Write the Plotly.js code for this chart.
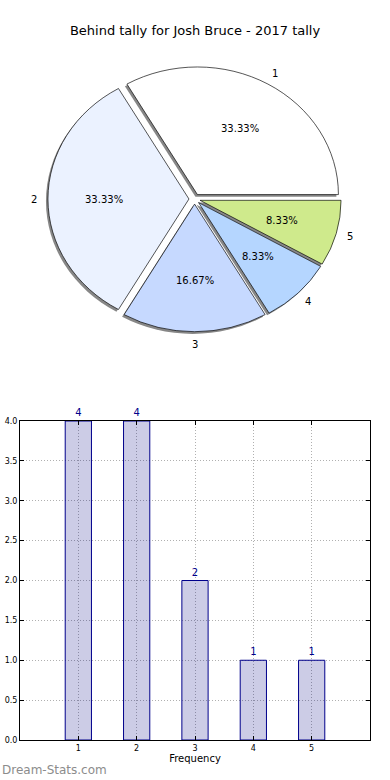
<!DOCTYPE html>
<html>
<head>
<meta charset="utf-8">
<script src="https://cdn.plot.ly/plotly-3.0.1.min.js"></script>
<style>html,body{margin:0;padding:0;background:#fff}#chart{width:390px;height:780px}</style>
</head>
<body>
<div id="chart"></div>
<script>
// ---- data ----
const categories = ['1', '2', '3', '4', '5'];
const counts = [4, 4, 2, 1, 1];
const sliceColors = ['#ffffff', '#ebf2ff', '#c6d9ff', '#b5d6ff', '#cfea8c'];
const yTicks = [0, 0.5, 1, 1.5, 2, 2.5, 3, 3.5, 4];
const chartTitle = 'Behind tally for Josh Bruce - 2017 tally';
const xTitle = 'Frequency';
const watermark = 'Dream-Stats.com';

const W = 390, H = 780;
const FONT = 'DejaVu Sans, sans-serif';
const pull = 0.04;
const rot = -30;           // first slice starts at 3 o'clock, counterclockwise
const pctDist = 0.6, labelDist = 1.1;
// pie box in pixels (drawn as a circle, then squashed vertically like the original's ellipse)
const cx = 194.6, cy = 199, R = 141, sy = 0.905;
const RY = R * sy;
const D = R * (2 + 2 * pull);
function dom(cxp, cyp, d) {
  return {x: [(cxp - d / 2) / W, (cxp + d / 2) / W], y: [1 - (cyp + d / 2) / H, 1 - (cyp - d / 2) / H]};
}
const pulls = categories.map(() => pull);

const shadow = {
  type: 'pie', values: counts, labels: categories, sort: false,
  direction: 'counterclockwise', rotation: rot, pull: pulls,
  domain: dom(cx - 2, cy + 2.4, D),
  marker: {colors: categories.map(() => '#878787'), line: {width: 0}},
  textinfo: 'none', hoverinfo: 'skip', showlegend: false
};
const main = {
  type: 'pie', values: counts, labels: categories, sort: false,
  direction: 'counterclockwise', rotation: rot, pull: pulls,
  domain: dom(cx, cy, D),
  marker: {colors: sliceColors, line: {color: '#000', width: 0.7}},
  textinfo: 'none', hoverinfo: 'skip', showlegend: false
};
const bars = {
  type: 'bar', x: categories.map(Number), y: counts, width: 0.45,
  marker: {color: 'rgba(0,0,128,0.2)', line: {color: '#00008b', width: 1}},
  text: counts.map(String), textposition: 'outside', cliponaxis: false,
  textfont: {family: FONT, size: 10, color: '#00008b'},
  hoverinfo: 'skip', showlegend: false, xaxis: 'x', yaxis: 'y'
};

// slice text (percent inside, label outside) placed on a hidden overlay axis in pie-radius units
const total = counts.reduce((a, b) => a + b, 0);
const pieAnnotations = [];
let cum = 0;
counts.forEach((v, i) => {
  const mid = (cum + v / 2) / total * 2 * Math.PI;
  cum += v;
  const c = Math.cos(mid), s = Math.sin(mid);
  pieAnnotations.push({
    xref: 'x2', yref: 'y2', x: (pctDist + pull) * c, y: (pctDist + pull) * s,
    text: (100 * v / total).toFixed(2) + '%', showarrow: false, xanchor: 'center', yanchor: 'middle',
    font: {family: FONT, size: 10, color: '#000'}
  });
  pieAnnotations.push({
    xref: 'x2', yref: 'y2', x: (labelDist + pull) * c, y: (labelDist + pull) * s,
    text: categories[i], showarrow: false, xanchor: 'center', yanchor: 'middle',
    font: {family: FONT, size: 10, color: '#000'}
  });
});

const layout = {
  width: W, height: H, margin: {l: 0, r: 0, t: 0, b: 0},
  paper_bgcolor: '#fff', plot_bgcolor: '#fff',
  font: {family: FONT, size: 8, color: '#000'},
  title: {text: chartTitle, font: {family: FONT, size: 13, color: '#000'}, x: 0.5, xanchor: 'center', y: 1 - 30 / H, yanchor: 'middle', yref: 'paper'},
  xaxis: {
    domain: [20 / W, 370 / W], range: [0, 6], tickvals: categories.map(Number), ticktext: categories,
    showline: true, linecolor: '#000', linewidth: 1, mirror: 'ticks', ticks: 'inside', ticklen: 4, tickcolor: '#000',
    showgrid: true, gridcolor: '#b0b0b0', griddash: '1px,2px', gridwidth: 1, zeroline: false,
    tickfont: {family: FONT, size: 8}, title: {text: xTitle, font: {family: FONT, size: 10}, standoff: 3},
    layer: 'above traces', fixedrange: true
  },
  yaxis: {
    domain: [1 - 740 / H, 1 - 421 / H], range: [0, 4], tickvals: yTicks, tickformat: '.1f',
    showline: true, linecolor: '#000', linewidth: 1, mirror: 'ticks', ticks: 'inside', ticklen: 4, tickcolor: '#000',
    showgrid: true, gridcolor: '#b0b0b0', griddash: '1px,2px', gridwidth: 1, zeroline: false,
    tickfont: {family: FONT, size: 8}, layer: 'above traces', fixedrange: true
  },
  xaxis2: {domain: [0, 1], range: [(0 - cx) / R, (W - cx) / R], visible: false, anchor: 'y2', fixedrange: true},
  yaxis2: {domain: [0.5, 1], range: [(cy - H / 2) / RY, cy / RY], visible: false, anchor: 'x2', fixedrange: true},
  annotations: pieAnnotations.concat([{
    text: watermark, xref: 'paper', yref: 'paper', x: 0, y: 1 - 770 / H, xanchor: 'left', yanchor: 'middle',
    showarrow: false, font: {family: FONT, size: 12, color: '#8c8c8c'}
  }])
};

Plotly.newPlot('chart', [shadow, main, bars], layout, {staticPlot: true}).then(gd => {
  const layer = gd.querySelector('.pielayer');
  if (!layer) return;
  layer.setAttribute('transform', `translate(${cx},${cy}) scale(1,${sy}) translate(${-cx},${-cy})`);
});
</script>
</body>
</html>
